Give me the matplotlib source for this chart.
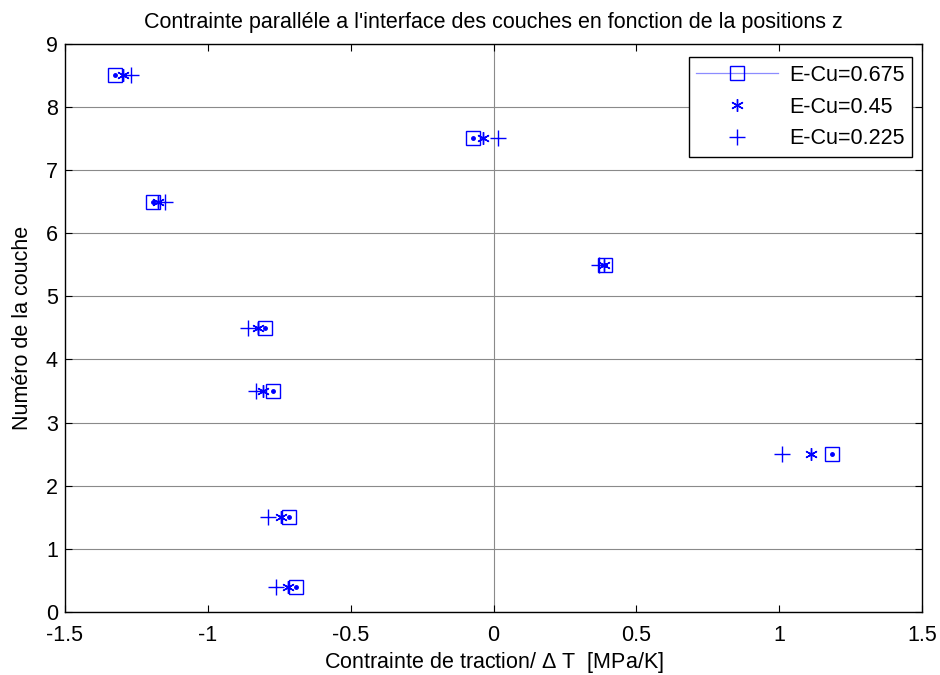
import matplotlib
matplotlib.use("Agg")
import matplotlib.pyplot as plt
from matplotlib.lines import Line2D
import numpy as np

plt.rcParams['font.family'] = ['Liberation Sans', 'DejaVu Sans']
plt.rcParams['mathtext.fontset'] = 'custom'
plt.rcParams['mathtext.rm'] = 'Liberation Sans'

# layer positions (z) and stress per Cu modulus
couche = np.array([8.5, 7.5, 6.5, 5.5, 4.5, 3.5, 2.5, 1.5, 0.4])
s_0675 = np.array([-1.325, -0.07, -1.19, 0.39, -0.80, -0.77, 1.185, -0.715, -0.69])
s_045 = np.array([-1.297, -0.035, -1.175, 0.385, -0.825, -0.805, 1.11, -0.745, -0.72])
s_0225 = np.array([-1.27, 0.015, -1.15, 0.37, -0.86, -0.83, 1.01, -0.79, -0.76])

labels = ["E-Cu=0.675", "E-Cu=0.45", "E-Cu=0.225"]
blue = (0, 0, 1)
fs = 15.5
asterisk = (6, 2, 0)

fig = plt.figure(figsize=(9.4, 6.75), dpi=100)
ax = fig.add_axes([0.069, 0.0933, 0.912, 0.842])

ax.plot(s_0675, couche, 's', ms=10, mfc='none', mec=blue, mew=1.0, ls='none')
ax.plot(s_0675, couche, '.', ms=5, color=blue)
ax.plot(s_045, couche, marker=asterisk, ms=9, mec=blue, mew=1.0, ls='none')
ax.plot(s_045, couche, '.', ms=4, color=blue)
ax.plot(s_0225, couche, '+', ms=11, mec=blue, mew=1.0, ls='none')

ax.set_xlim(-1.5, 1.5)
ax.set_ylim(0, 9)
ax.set_xticks(np.arange(-1.5, 1.51, 0.5))
ax.set_xticklabels(["-1.5", "-1", "-0.5", "0", "0.5", "1", "1.5"])
ax.set_yticks(np.arange(0, 10, 1))
ax.yaxis.grid(True, color='#8a8a8a', lw=0.8)
ax.axvline(0, color='#8a8a8a', lw=0.8, zorder=0)
ax.set_axisbelow(True)
ax.tick_params(direction='in', top=True, right=True, labelsize=fs, length=5)
ax.tick_params(axis='x', pad=9)
ax.tick_params(axis='y', pad=5)
for sp in ax.spines.values():
    sp.set_linewidth(1.0)

ax.set_title("Contrainte paralléle a l'interface des couches en fonction de la positions z",
             fontsize=fs, pad=11)
ax.set_xlabel("Contrainte de traction/ $\\Delta$ T  [MPa/K]", fontsize=fs, labelpad=3)
ax.set_ylabel("Numéro de la couche", fontsize=fs, labelpad=9)

handles = [
    Line2D([], [], color=(0.55, 0.55, 1), lw=0.9, marker='s', ms=10, mfc='none', mec=blue),
    Line2D([], [], ls='none', marker=asterisk, ms=9, mec=blue, mew=1.0),
    Line2D([], [], ls='none', marker='+', ms=11, mec=blue),
]
leg = ax.legend(handles, labels, loc='upper right', fontsize=fs, fancybox=False,
                edgecolor='black', framealpha=1, borderpad=0.35, labelspacing=0.5,
                handlelength=3.8, handletextpad=0.5, borderaxespad=0,
                bbox_to_anchor=(0.988, 0.976))
leg.get_frame().set_linewidth(1.0)

fig.savefig("out.png", dpi=100)
